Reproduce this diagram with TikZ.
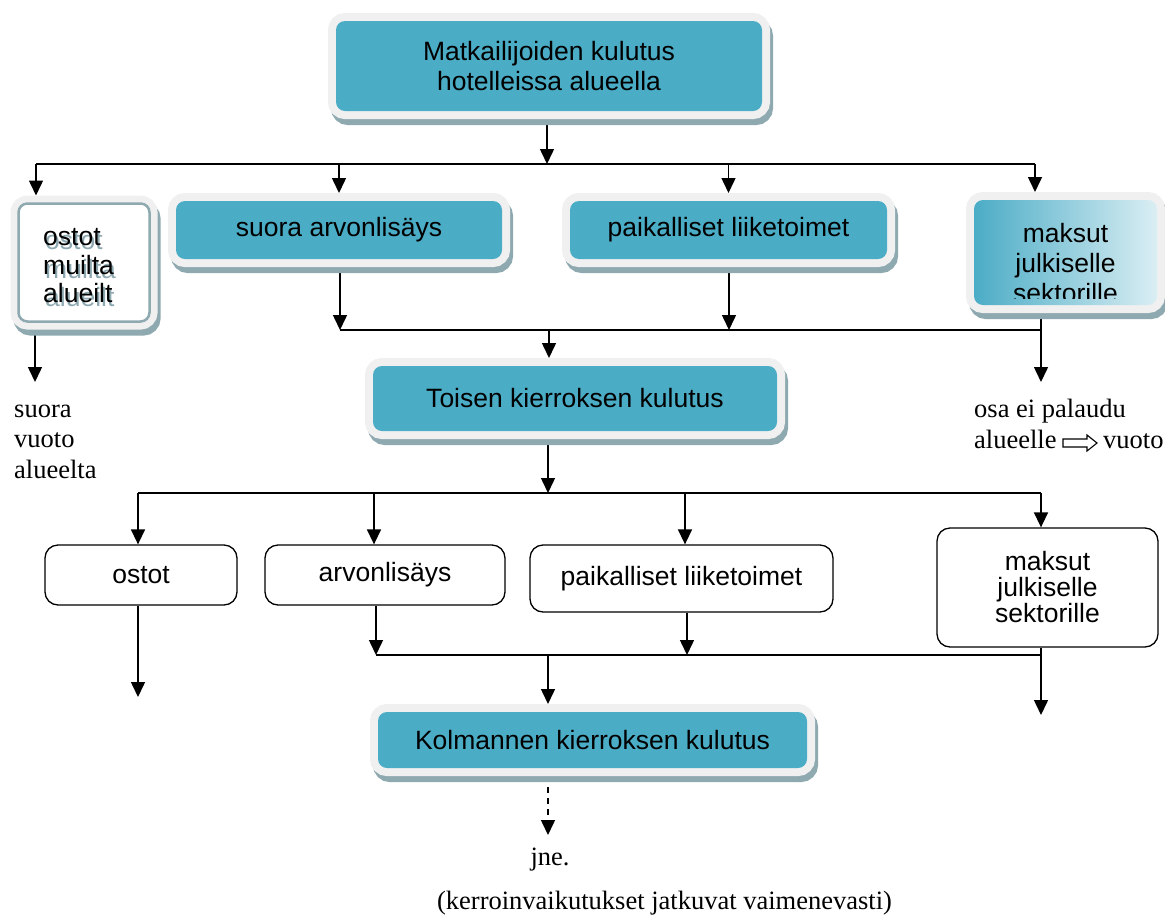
\documentclass[tikz,border=0pt]{standalone}
\usepackage{fontspec}
\setmainfont{Liberation Serif}
\setsansfont{Liberation Sans}
\usetikzlibrary{arrows.meta,calc}
\definecolor{tealc}{HTML}{4BACC6}
\definecolor{framec}{HTML}{F0F0F0}
\definecolor{shadowc}{HTML}{8FA9B0}
\definecolor{ghostc}{HTML}{8DA8B0}
\definecolor{lightc}{HTML}{DAEEF3}
\newcommand\bxfont{\sffamily\fontsize{26.5}{30}\selectfont}
\newcommand\txfont{\rmfamily\fontsize{26.5}{30}\selectfont}
\pgfdeclarelayer{bg}
\pgfsetlayers{bg,main}
\begin{document}
\begin{tikzpicture}[x=1pt,y=-1pt,
  glow/.style={rounded corners=9pt, outer sep=8pt, inner sep=0pt, align=center, font=\bxfont,
    preaction={draw=shadowc, fill=shadowc, line width=16pt, transform canvas={xshift=3pt,yshift=-6pt}},
    preaction={draw=framec, fill=framec, line width=16pt}},
  tealbox/.style={glow, fill=tealc},
  wbox/.style={draw=black, line width=1.3pt, rounded corners=13pt, fill=white, inner sep=0pt, align=center, font=\bxfont},
  conn/.style={line width=1.5pt, draw=black},
  arr/.style={conn, -{Triangle[width=14pt,length=15pt]}},
  plain/.style={inner sep=0pt, font=\txfont, anchor=base west},
  boxtext/.style={inner sep=0pt, font=\bxfont, anchor=base west},
]
\useasboundingbox (0,0) rectangle (1165,916);

% ---- first level
\node[tealbox, minimum width=426, minimum height=90] (top) at (549,66) {Matkailijoiden kulutus\\hotelleissa alueella};

\node[glow, fill=white, draw=shadowc, line width=2.5pt, minimum width=131, minimum height=118] (ostotA) at (84,262.5) {};
\node[boxtext, text=ghostc] (om1g) at (45,249) {ostot};
\node[boxtext, text=ghostc] (om2g) at (45,278) {muilta};
\node[boxtext, text=ghostc] (om3g) at (45,306) {alueilt};
\node[boxtext] (om1) at (43,245) {ostot};
\node[boxtext] (om2) at (43,274) {muilta};
\node[boxtext] (om3) at (43,302) {alueilt};

\node[tealbox, minimum width=326, minimum height=58] (suora) at (339,230) {suora arvonlisäys};
\node[tealbox, minimum width=317, minimum height=58] (paik) at (728.5,230) {paikalliset liiketoimet};
\node[glow, left color=tealc, right color=lightc, minimum width=183, minimum height=105] (maksut) at (1065.5,252.5) {};
\begin{scope}
  \clip (974,200) rectangle (1157,298);
  \node[inner sep=0pt, font=\bxfont, align=center] (maksutT) at (1065.5,263) {maksut\\julkiselle\\sektorille};
\end{scope}

% ---- second level
\node[tealbox, minimum width=404, minimum height=65] (toisen) at (575,398.5) {Toisen kierroksen kulutus};

\node[wbox, minimum width=192, minimum height=60] (ostot2) at (141,575) {ostot};
\node[wbox, minimum width=240, minimum height=60] (arv) at (385,575) {arvonlisäys};
\node[wbox, minimum width=303, minimum height=67] (paik2) at (681.5,578.5) {paikalliset liiketoimet};
\node[wbox, minimum width=221, minimum height=119, font={\sffamily\fontsize{26.5}{26}\selectfont}] (maksut2) at (1047.5,587.5) {maksut\\julkiselle\\sektorille};

% ---- third level
\node[tealbox, minimum width=429, minimum height=56] (kolm) at (592.5,740) {Kolmannen kierroksen kulutus};

% ---- plain texts
\node[plain] (sv1) at (14,417) {suora};
\node[plain] (sv2) at (14,447.5) {vuoto};
\node[plain] (sv3) at (14,478) {alueelta};
\node[plain] (osa1) at (974,417) {osa ei palaudu};
\node[plain] (osa2) at (974,448) {alueelle};
\node[plain] (osa3) at (1103,448) {vuoto};
\draw[line width=1.1pt, fill=white] (1063,439) -- (1087,439) -- (1087,435) -- (1097,443) -- (1087,451) -- (1087,447) -- (1063,447) -- cycle;
\node[plain, anchor=base] (jne) at (550,865) {jne.};
\node[plain, anchor=base] (note) at (664.5,909) {(kerroinvaikutukset jatkuvat vaimenevasti)};

% ---- connectors
\begin{pgfonlayer}{bg}
  \coordinate (j1) at (547,164);
  \coordinate (h1L) at (36,164);
  \coordinate (h1R) at (1035,164);
  \draw[arr] (j1 |- top.south) -- (j1);
  \draw[conn] (h1L) -- (h1R);
  \draw[arr] (h1L) -- (h1L |- ostotA.north);
  \draw[arr] (suora.north |- h1L) -- (suora.north);
  \draw[arr] (paik.north |- h1L) -- (paik.north);
  \draw[arr] (h1R) -- (h1R |- maksut.north);

  \coordinate (h2L) at (340,330);
  \coordinate (h2R) at (1041,330);
  \coordinate (j2) at (549,330);
  \coordinate (s2) at (340,330);
  \coordinate (p2) at (729,330);
  \draw[arr] (s2 |- suora.south) -- (s2);
  \draw[arr] (p2 |- paik.south) -- (p2);
  \draw[conn] (h2L) -- (h2R);
  \draw[arr] (j2) -- (j2 |- toisen.north);
  \coordinate (osaTip) at (1041,382);
  \draw[arr] (osaTip |- maksut.south) -- (osaTip);
  \coordinate (vuotoTip) at (35,382);
  \draw[arr] (vuotoTip |- ostotA.south) -- (vuotoTip);

  \coordinate (j3) at (548,493);
  \coordinate (h3L) at (138,493);
  \coordinate (h3R) at (1041,493);
  \coordinate (a3) at (374,493);
  \coordinate (p3) at (685,493);
  \draw[arr] (j3 |- toisen.south) -- (j3);
  \draw[conn] (h3L) -- (h3R);
  \draw[arr] (h3L) -- (h3L |- ostot2.north);
  \draw[arr] (a3) -- (a3 |- arv.north);
  \draw[arr] (p3) -- (p3 |- paik2.north);
  \draw[arr] (h3R) -- (h3R |- maksut2.north);

  \coordinate (ostTip) at (138,697);
  \coordinate (h4L) at (376,655);
  \coordinate (h4R) at (1041,655);
  \coordinate (j4) at (548,655);
  \coordinate (p4) at (687,655);
  \coordinate (mTip) at (1041,715);
  \coordinate (jneTip) at (548,835);
  \draw[arr] (ostTip |- ostot2.south) -- (ostTip);
  \draw[arr] (h4L |- arv.south) -- (h4L);
  \draw[arr] (p4 |- paik2.south) -- (p4);
  \draw[conn] (h4L) -- (h4R);
  \draw[arr] (mTip |- maksut2.south) -- (mTip);
  \draw[arr] (j4) -- (j4 |- kolm.north);
  \draw[arr, dash pattern=on 6pt off 5pt] (jneTip |- kolm.south) -- (jneTip);
\end{pgfonlayer}
\end{tikzpicture}
\end{document}
